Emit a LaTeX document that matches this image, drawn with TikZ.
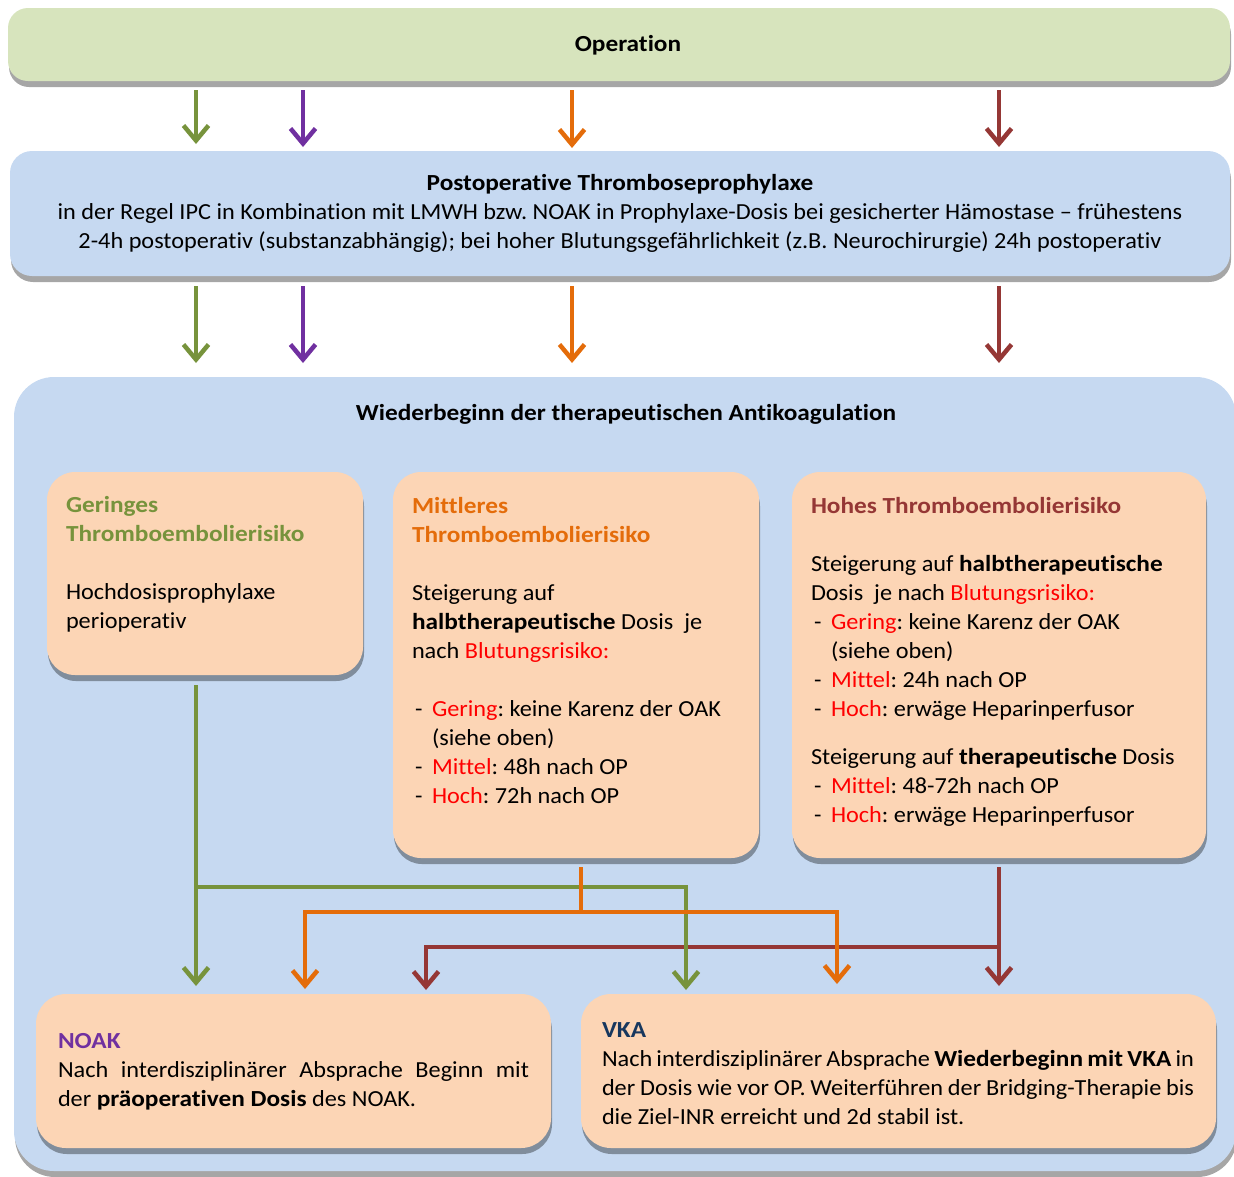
\documentclass[tikz,border=0pt]{standalone}
\usepackage{fontspec}
\setmainfont{Carlito}[Ligatures=NoCommon,FakeStretch=1.055,BoldFeatures={FakeStretch=1.10}]
\usetikzlibrary{arrows.meta,shadows}
\definecolor{cgreen}{HTML}{77933C}
\definecolor{cpurple}{HTML}{7030A0}
\definecolor{corange}{HTML}{E46C0A}
\definecolor{cdred}{HTML}{953735}
\definecolor{cnavy}{HTML}{17375E}
\definecolor{cred}{HTML}{FF0000}
\definecolor{fgreen}{HTML}{D7E4BD}
\definecolor{fblue}{HTML}{C6D9F1}
\definecolor{fpeach}{HTML}{FCD5B5}
\newcommand\di{\makebox[20pt][l]{\hspace{3pt}-}}
\frenchspacing
\begin{document}
\begin{tikzpicture}[x=1pt,y=-1pt,
  box/.style={rectangle,inner sep=0pt,outer sep=0pt,anchor=north west,
    drop shadow={shadow xshift=1pt,shadow yshift=-6pt,fill=black,opacity=0.35}},
  txt/.style={inner sep=0pt,outer sep=0pt,anchor=north west,align=flush left,
    font=\fontsize{23}{29}\selectfont},
  ctxt/.style={inner sep=0pt,outer sep=0pt,font=\fontsize{23}{29}\selectfont},
  conn/.style={line width=4.5pt},
  arr/.style={line width=4.5pt,-{Straight Barb[length=15pt,width=25pt]}}]
\useasboundingbox (0,0) rectangle (1234,1176);
% boxes
\node[box,fill=fgreen,rounded corners=20pt,minimum width=1222pt,minimum height=73pt] (op) at (8,8) {};
\node[box,fill=fblue,rounded corners=22pt,minimum width=1220pt,minimum height=125pt] (post) at (10,151) {};
\node[box,fill=fblue,rounded corners=40pt,minimum width=1222pt,minimum height=794pt] (big) at (14,377) {};
\node[box,fill=fpeach,rounded corners=28pt,minimum width=316pt,minimum height=203pt] (b1) at (47,472) {};
\node[box,fill=fpeach,rounded corners=28pt,minimum width=366pt,minimum height=386pt] (b2) at (393,472) {};
\node[box,fill=fpeach,rounded corners=28pt,minimum width=414pt,minimum height=386pt] (b3) at (792,472) {};
\node[box,fill=fpeach,rounded corners=30pt,minimum width=515pt,minimum height=154pt] (noak) at (36,994) {};
\node[box,fill=fpeach,rounded corners=30pt,minimum width=635pt,minimum height=154pt] (vka) at (581,994) {};
% texts
\node[ctxt,anchor=base] (topt) at (628,51) {\textbf{Operation}};
\node[ctxt,anchor=north,align=flush center,text width=1200pt] (postt) at (620,169.7)
  {\strut\textbf{Postoperative Thromboseprophylaxe}\\
   in der Regel IPC in Kombination mit LMWH bzw. NOAK in Prophylaxe-Dosis bei gesicherter Hämostase – frühestens\\
   2-4h postoperativ (substanzabhängig); bei hoher Blutungsgefährlichkeit (z.B. Neurochirurgie) 24h postoperativ};
\node[ctxt,anchor=base] (bigt) at (626,420) {\textbf{Wiederbeginn der therapeutischen Antikoagulation}};
\node[txt] (t1) at (66,491.7)
  {\strut\textcolor{cgreen}{\textbf{Geringes}}\\
   \textcolor{cgreen}{\textbf{Thromboembolierisiko}}\\[29pt]
   Hochdosisprophylaxe\\
   perioperativ};
\node[txt] (t2) at (412,492.7)
  {\strut\textcolor{corange}{\textbf{Mittleres}}\\
   \textcolor{corange}{\textbf{Thromboembolierisiko}}\\[29pt]
   Steigerung auf\\
   \textbf{halbtherapeutische} Dosis\ \ je\\
   nach \textcolor{cred}{Blutungsrisiko:}\\[29pt]
   \di\textcolor{cred}{Gering}: keine Karenz der OAK\\
   \hspace*{20pt}(siehe oben)\\
   \di\textcolor{cred}{Mittel}: 48h nach OP\\
   \di\textcolor{cred}{Hoch}: 72h nach OP};
\node[txt] (t3) at (811,492.7)
  {\strut\textcolor{cdred}{\textbf{Hohes Thromboembolierisiko}}\\[29pt]
   Steigerung auf \textbf{halbtherapeutische}\\
   Dosis\ \ je nach \textcolor{cred}{Blutungsrisiko:}\\
   \di\textcolor{cred}{Gering}: keine Karenz der OAK\\
   \hspace*{20pt}(siehe oben)\\
   \di\textcolor{cred}{Mittel}: 24h nach OP\\
   \di\textcolor{cred}{Hoch}: erwäge Heparinperfusor\\[19pt]
   Steigerung auf \textbf{therapeutische} Dosis\\
   \di\textcolor{cred}{Mittel}: 48-72h nach OP\\
   \di\textcolor{cred}{Hoch}: erwäge Heparinperfusor};
\node[txt] (t4) at (58,1027.7)
  {\strut\textcolor{cpurple}{\textbf{NOAK}}\\
   \makebox[471pt][s]{Nach interdisziplinärer Absprache Beginn mit}\\
   der \textbf{präoperativen Dosis} des NOAK.};
\node[txt] (t5) at (602,1016.7)
  {\strut\textcolor{cnavy}{\textbf{VKA}}\\
   \makebox[592pt][s]{Nach interdisziplinärer Absprache \textbf{Wiederbeginn mit VKA} in}\\
   \makebox[592pt][s]{der Dosis wie vor OP. Weiterführen der Bridging-Therapie bis}\\
   die Ziel-INR erreicht und 2d stabil ist.};
% x positions
\coordinate (xg) at (196,0);
\coordinate (xp) at (303,0);
\coordinate (xo) at (572,0);
\coordinate (xr) at (999,0);
% operation -> postop
\draw[arr,cgreen,shorten <=9pt,shorten >=7pt] (xg |- op.south) -- (xg |- post.north);
\draw[arr,cpurple,shorten <=9pt,shorten >=4pt] (xp |- op.south) -- (xp |- post.north);
\draw[arr,corange,shorten <=9pt,shorten >=3pt] (xo |- op.south) -- (xo |- post.north);
\draw[arr,cdred,shorten <=9pt,shorten >=4pt] (xr |- op.south) -- (xr |- post.north);
% postop -> big
\draw[arr,cgreen,shorten <=10pt,shorten >=14pt] (xg |- post.south) -- (xg |- big.north);
\draw[arr,cpurple,shorten <=10pt,shorten >=14pt] (xp |- post.south) -- (xp |- big.north);
\draw[arr,corange,shorten <=10pt,shorten >=14pt] (xo |- post.south) -- (xo |- big.north);
\draw[arr,cdred,shorten <=10pt,shorten >=14pt] (xr |- post.south) -- (xr |- big.north);
% lower connectors
\coordinate (xgv) at (686,0);
\coordinate (xol) at (305,0);
\coordinate (xor) at (837,0);
\coordinate (xos) at (581,0);
\coordinate (xrl) at (426,0);
\coordinate (gj) at (196,887);
\coordinate (oj) at (581,912);
\coordinate (rj) at (999,947);
% red
\draw[arr,cdred,shorten <=9pt,shorten >=8pt] (xr |- b3.south) -- (xr |- vka.north);
\draw[arr,cdred,shorten >=4pt] (rj) -| (xrl |- noak.north);
% green
\draw[arr,cgreen,shorten <=10pt,shorten >=8pt] (xg |- b1.south) -- (xg |- noak.north);
\draw[arr,cgreen,shorten >=4pt] (gj) -| (xgv |- vka.north);
% orange
\draw[conn,corange,shorten <=9pt] (xos |- b2.south) -- (oj);
\draw[arr,corange,shorten >=5pt] (oj) -| (xol |- noak.north);
\draw[arr,corange,shorten >=10pt] (oj) -| (xor |- vka.north);
\end{tikzpicture}
\end{document}
